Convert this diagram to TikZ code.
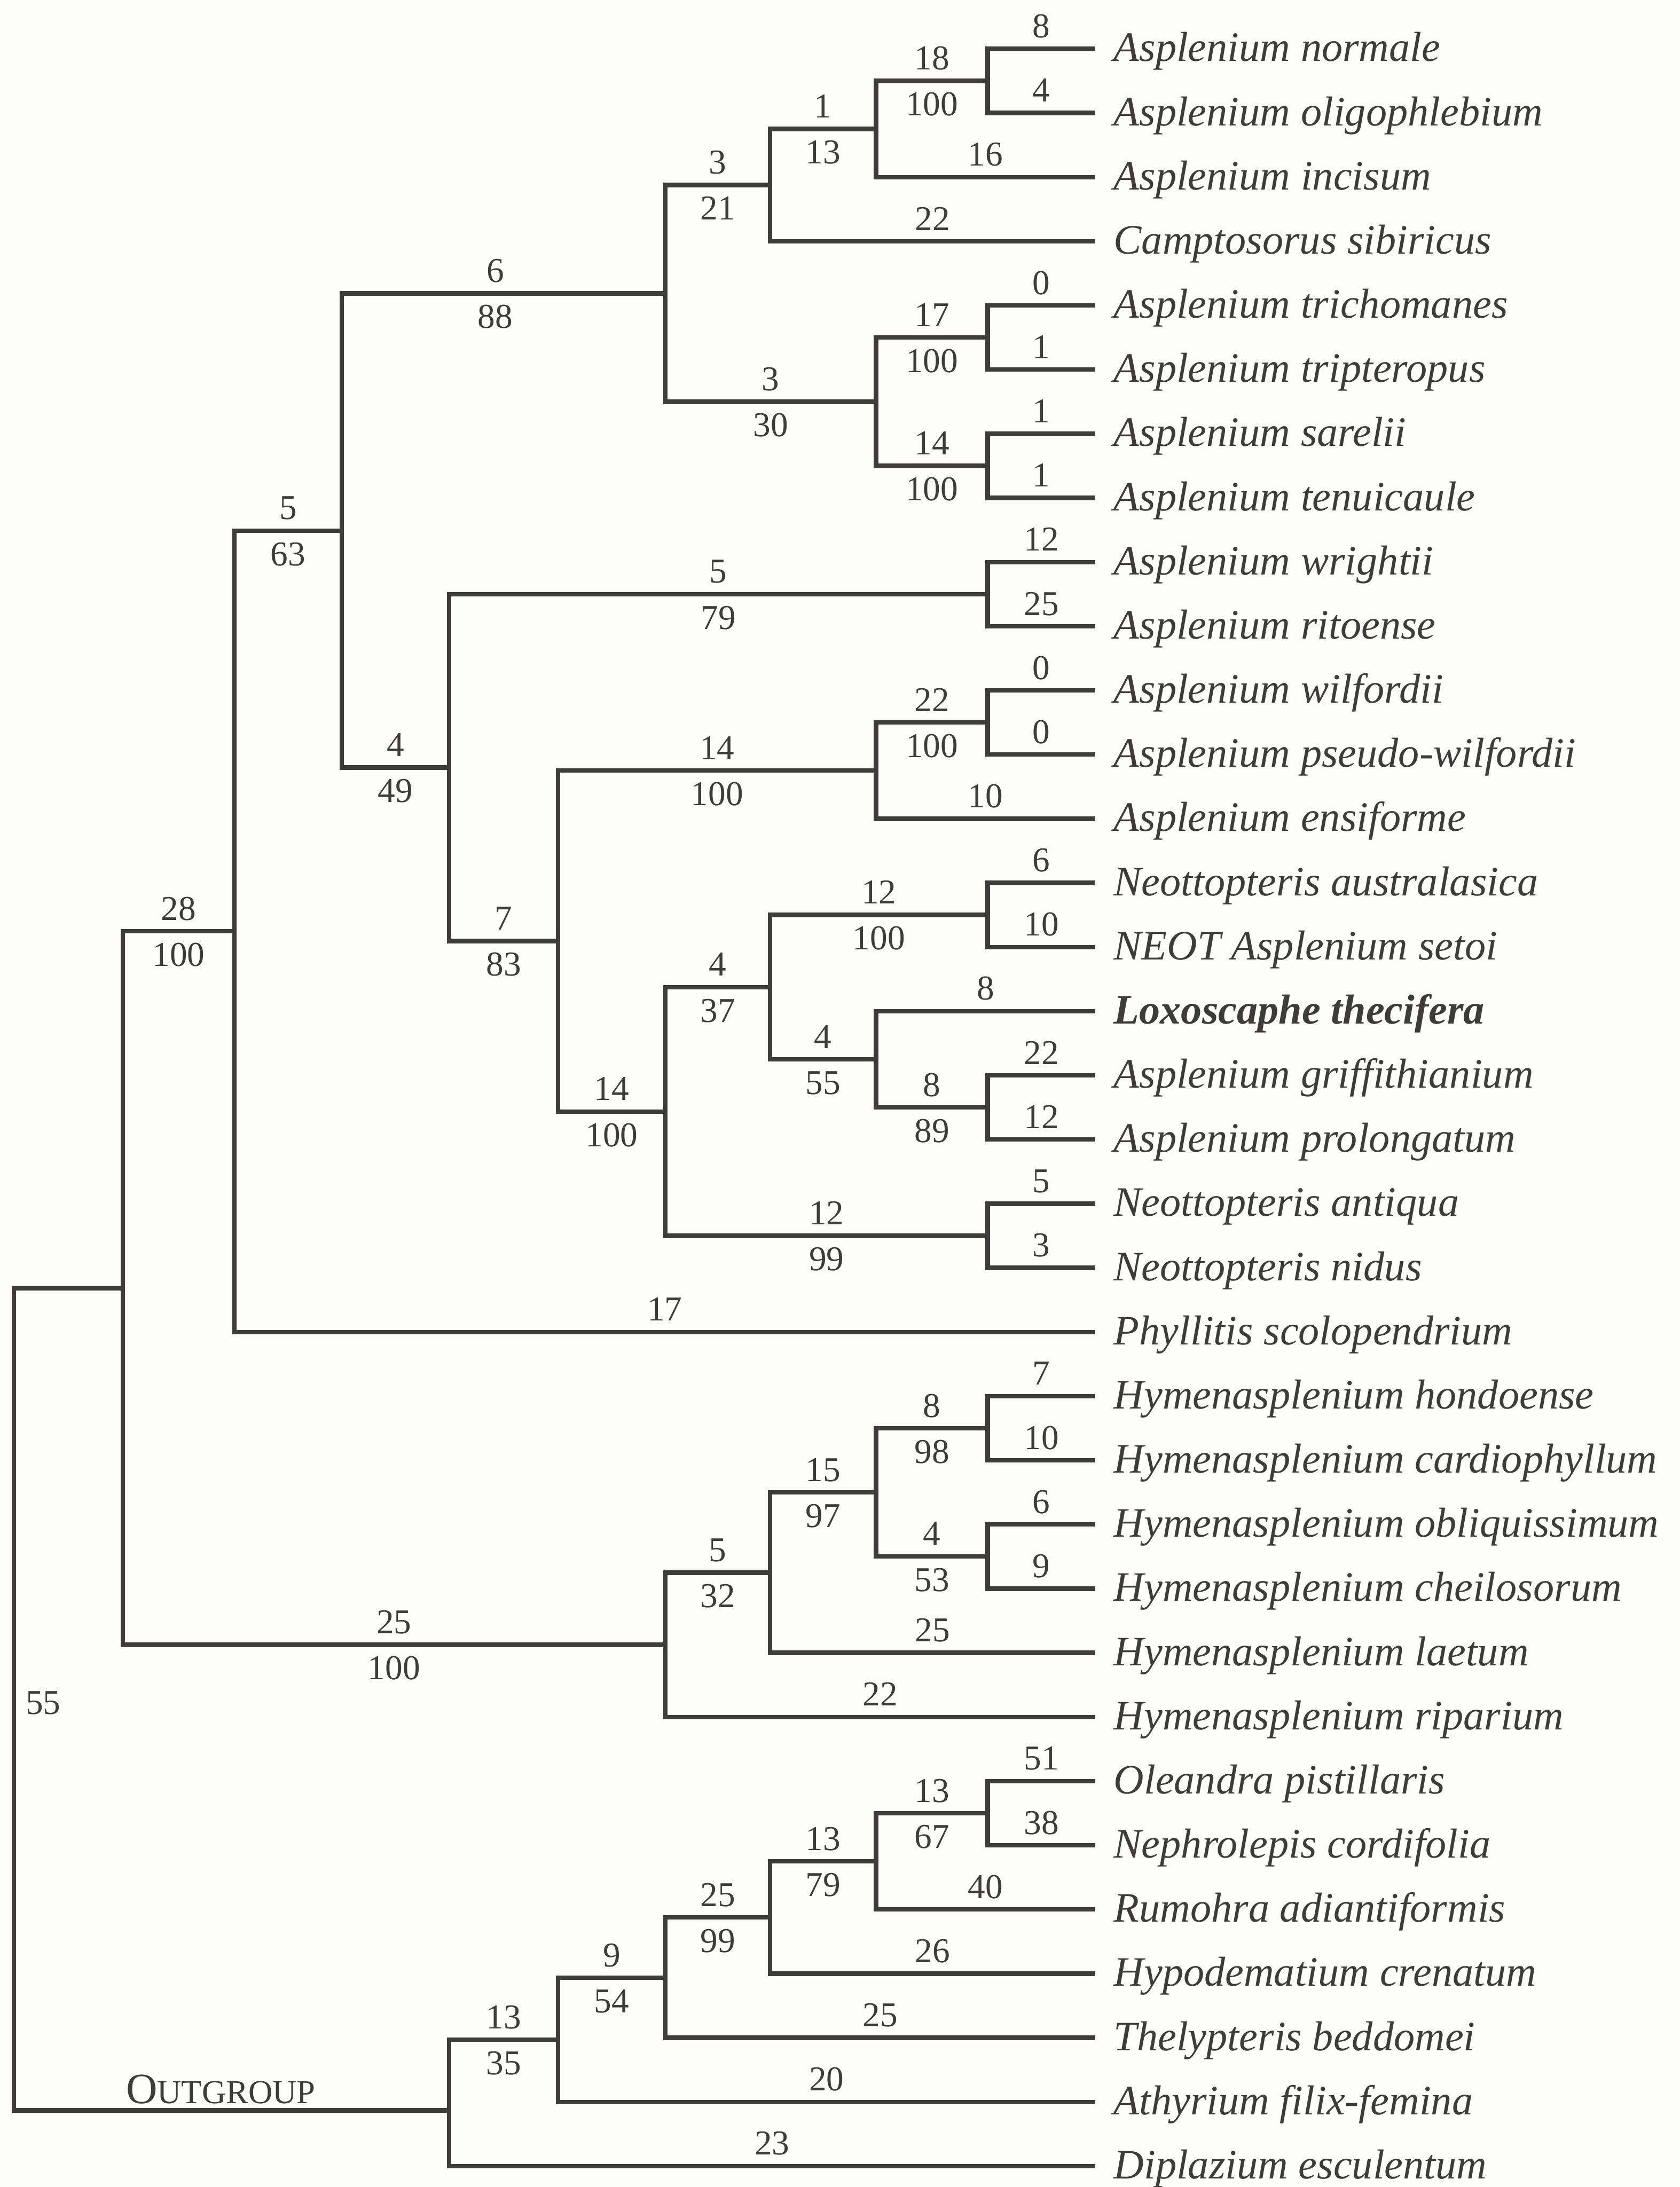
\documentclass[tikz,border=0pt]{standalone}
\usepackage{fontspec}
\setmainfont{Liberation Serif}
\definecolor{ink}{RGB}{62,60,56}
\definecolor{paper}{RGB}{253,253,248}
\tikzset{
  branch/.style={draw=ink, line width=1.6pt, line join=miter},
  lblup/.style={anchor=base, inner sep=0pt, yshift=4pt, font=\fontsize{12.5}{14}\selectfont, text=ink},
  lbldn/.style={anchor=base, inner sep=0pt, yshift=-12.5pt, font=\fontsize{12.5}{14}\selectfont, text=ink},
  taxon/.style={anchor=base west, inner sep=0pt, xshift=6.5pt, yshift=-4.5pt, font=\fontsize{15}{18}\selectfont\itshape, text=ink},
}
\newcommand\tbr[3]{\draw[branch] (#1) |- (#2) node[pos=0.75, lblup]{#3};}
\newcommand\ibr[4]{\draw[branch] (#1) |- (#2) node[pos=0.75, lblup]{#3} node[pos=0.75, lbldn]{#4};}
\begin{document}
\begin{tikzpicture}[x=0.5pt, y=-0.5pt]
\fill[paper] (0,0) rectangle (1204,1568);
\useasboundingbox (0,0) rectangle (1204,1568);

% tips
\coordinate (t1) at (785,35);   \node[taxon] (n1) at (t1) {Asplenium normale};
\coordinate (t2) at (785,81);   \node[taxon] (n2) at (t2) {Asplenium oligophlebium};
\coordinate (t3) at (785,127);  \node[taxon] (n3) at (t3) {Asplenium incisum};
\coordinate (t4) at (785,173);  \node[taxon] (n4) at (t4) {Camptosorus sibiricus};
\coordinate (t5) at (785,219);  \node[taxon] (n5) at (t5) {Asplenium trichomanes};
\coordinate (t6) at (785,265);  \node[taxon] (n6) at (t6) {Asplenium tripteropus};
\coordinate (t7) at (785,311);  \node[taxon] (n7) at (t7) {Asplenium sarelii};
\coordinate (t8) at (785,357);  \node[taxon] (n8) at (t8) {Asplenium tenuicaule};
\coordinate (t9) at (785,403);  \node[taxon] (n9) at (t9) {Asplenium wrightii};
\coordinate (t10) at (785,449); \node[taxon] (n10) at (t10) {Asplenium ritoense};
\coordinate (t11) at (785,495); \node[taxon] (n11) at (t11) {Asplenium wilfordii};
\coordinate (t12) at (785,541); \node[taxon] (n12) at (t12) {Asplenium pseudo-wilfordii};
\coordinate (t13) at (785,587); \node[taxon] (n13) at (t13) {Asplenium ensiforme};
\coordinate (t14) at (785,633); \node[taxon] (n14) at (t14) {Neottopteris australasica};
\coordinate (t15) at (785,679); \node[taxon] (n15) at (t15) {NEOT Asplenium setoi};
\coordinate (t16) at (785,725); \node[taxon] (n16) at (t16) {\bfseries Loxoscaphe thecifera};
\coordinate (t17) at (785,771); \node[taxon] (n17) at (t17) {Asplenium griffithianium};
\coordinate (t18) at (785,817); \node[taxon] (n18) at (t18) {Asplenium prolongatum};
\coordinate (t19) at (785,863); \node[taxon] (n19) at (t19) {Neottopteris antiqua};
\coordinate (t20) at (785,909); \node[taxon] (n20) at (t20) {Neottopteris nidus};
\coordinate (t21) at (785,955); \node[taxon] (n21) at (t21) {Phyllitis scolopendrium};
\coordinate (t22) at (785,1001); \node[taxon] (n22) at (t22) {Hymenasplenium hondoense};
\coordinate (t23) at (785,1047); \node[taxon] (n23) at (t23) {Hymenasplenium cardiophyllum};
\coordinate (t24) at (785,1093); \node[taxon] (n24) at (t24) {Hymenasplenium obliquissimum};
\coordinate (t25) at (785,1139); \node[taxon] (n25) at (t25) {Hymenasplenium cheilosorum};
\coordinate (t26) at (785,1185); \node[taxon] (n26) at (t26) {Hymenasplenium laetum};
\coordinate (t27) at (785,1231); \node[taxon] (n27) at (t27) {Hymenasplenium riparium};
\coordinate (t28) at (785,1277); \node[taxon] (n28) at (t28) {Oleandra pistillaris};
\coordinate (t29) at (785,1323); \node[taxon] (n29) at (t29) {Nephrolepis cordifolia};
\coordinate (t30) at (785,1369); \node[taxon] (n30) at (t30) {Rumohra adiantiformis};
\coordinate (t31) at (785,1415); \node[taxon] (n31) at (t31) {Hypodematium crenatum};
\coordinate (t32) at (785,1461); \node[taxon] (n32) at (t32) {Thelypteris beddomei};
\coordinate (t33) at (785,1507); \node[taxon] (n33) at (t33) {Athyrium filix-femina};
\coordinate (t34) at (785,1553); \node[taxon] (n34) at (t34) {Diplazium esculentum};

% internal nodes
\coordinate (vA) at (708,58);
\coordinate (vB) at (628,92.5);
\coordinate (vC) at (552,132.7);
\coordinate (vD) at (708,242);
\coordinate (vE) at (708,334);
\coordinate (vF) at (628,288);
\coordinate (vG) at (477,210.4);
\coordinate (vH) at (708,426);
\coordinate (vI) at (708,518);
\coordinate (vJ) at (628,552.5);
\coordinate (vK) at (708,656);
\coordinate (vL) at (708,794);
\coordinate (vM) at (628,759.5);
\coordinate (vN) at (552,707.7);
\coordinate (vO) at (708,886);
\coordinate (vP) at (477,796.9);
\coordinate (vQ) at (400,674.7);
\coordinate (vR) at (322,550.3);
\coordinate (vS) at (245,380.4);
\coordinate (vT) at (168,667.7);
\coordinate (vU) at (708,1024);
\coordinate (vV) at (708,1116);
\coordinate (vW) at (628,1070);
\coordinate (vX) at (552,1127.5);
\coordinate (vY) at (477,1179.2);
\coordinate (vZ) at (88,923.5);
\coordinate (oa) at (708,1300);
\coordinate (ob) at (628,1334.5);
\coordinate (oc) at (552,1374.7);
\coordinate (od) at (477,1417.9);
\coordinate (oe) at (400,1462.4);
\coordinate (of) at (322,1513);
\coordinate (root) at (10,1218);

% branches
\tbr{vA}{t1}{8}
\tbr{vA}{t2}{4}
\ibr{vB}{vA}{18}{100}
\tbr{vB}{t3}{16}
\ibr{vC}{vB}{1}{13}
\tbr{vC}{t4}{22}
\ibr{vG}{vC}{3}{21}
\tbr{vD}{t5}{0}
\tbr{vD}{t6}{1}
\tbr{vE}{t7}{1}
\tbr{vE}{t8}{1}
\ibr{vF}{vD}{17}{100}
\ibr{vF}{vE}{14}{100}
\ibr{vG}{vF}{3}{30}
\draw[branch] (vS) |- (vG) node[pos=0.75, lblup, xshift=-3pt]{6} node[pos=0.75, lbldn, xshift=-3pt]{88};
\tbr{vH}{t9}{12}
\tbr{vH}{t10}{25}
\ibr{vR}{vH}{5}{79}
\tbr{vI}{t11}{0}
\tbr{vI}{t12}{0}
\ibr{vJ}{vI}{22}{100}
\tbr{vJ}{t13}{10}
\ibr{vQ}{vJ}{14}{100}
\tbr{vK}{t14}{6}
\tbr{vK}{t15}{10}
\ibr{vN}{vK}{12}{100}
\tbr{vM}{t16}{8}
\tbr{vL}{t17}{22}
\tbr{vL}{t18}{12}
\ibr{vM}{vL}{8}{89}
\ibr{vN}{vM}{4}{55}
\ibr{vP}{vN}{4}{37}
\tbr{vO}{t19}{5}
\tbr{vO}{t20}{3}
\ibr{vP}{vO}{12}{99}
\ibr{vQ}{vP}{14}{100}
\ibr{vR}{vQ}{7}{83}
\ibr{vS}{vR}{4}{49}
\ibr{vT}{vS}{5}{63}
\tbr{vT}{t21}{17}
\ibr{vZ}{vT}{28}{100}
\tbr{vU}{t22}{7}
\tbr{vU}{t23}{10}
\tbr{vV}{t24}{6}
\tbr{vV}{t25}{9}
\ibr{vW}{vU}{8}{98}
\ibr{vW}{vV}{4}{53}
\ibr{vX}{vW}{15}{97}
\tbr{vX}{t26}{25}
\ibr{vY}{vX}{5}{32}
\tbr{vY}{t27}{22}
\ibr{vZ}{vY}{25}{100}
\tbr{oa}{t28}{51}
\tbr{oa}{t29}{38}
\ibr{ob}{oa}{13}{67}
\tbr{ob}{t30}{40}
\ibr{oc}{ob}{13}{79}
\tbr{oc}{t31}{26}
\ibr{od}{oc}{25}{99}
\tbr{od}{t32}{25}
\ibr{oe}{od}{9}{54}
\tbr{oe}{t33}{20}
\ibr{of}{oe}{13}{35}
\tbr{of}{t34}{23}
\draw[branch] (root) |- (vZ);
\draw[branch] (root) |- (of);

\node[anchor=base west, inner sep=0pt, text=ink] (og) at (90,1508)
  {\fontsize{15.5}{18}\selectfont O\fontsize{12}{14}\selectfont UTGROUP};
\node[anchor=base, inner sep=0pt, text=ink, font=\fontsize{12.5}{14}\selectfont] (l55) at (31,1229) {55};
\end{tikzpicture}
\end{document}
